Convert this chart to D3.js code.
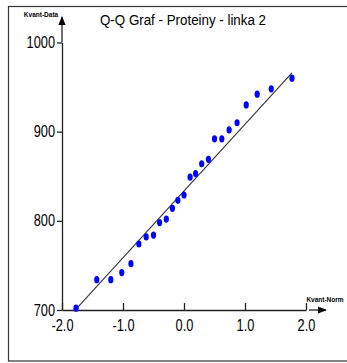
<!DOCTYPE html>
<html lang="cs">
  <head>
    <meta charset="UTF-8" />
    <title>Q-Q Graf</title>
    <script src="https://d3js.org/d3.v7.min.js"></script>
    <style>
      body { margin: 0; background: #fff; }
      text { font-family: "Liberation Sans", Arial, sans-serif; }
    </style>
  </head>
  <body></body>
  <script>
    // teoreticke kvantily normalniho rozdeleni (osa x)
    var normQuant = [-1.77, -1.43, -1.20, -1.02, -0.87, -0.74, -0.62, -0.50, -0.40, -0.29, -0.19, -0.10, 0.00,
                     0.10, 0.19, 0.29, 0.40, 0.50, 0.62, 0.74, 0.87, 1.02, 1.20, 1.43, 1.77];
    // namerene hodnoty - proteiny, linka 2
    var dataQuant = [702, 734, 734, 742, 752, 774, 782, 784, 798, 802, 814, 823, 829,
                     849, 853, 864, 869, 892, 892, 902, 910, 930, 942, 948, 960];
    // referencni primka
    var lineQ = [-1.77, 1.77];
    var lineV = [701, 966];
    var xTicks = [-2, -1, 0, 1, 2];
    var yTicks = [700, 800, 900, 1000];
    var title = "Q-Q Graf - Proteiny - linka 2";

    var W = 347, H = 363;
    var svg = d3.select("body").append("svg").attr("width", W).attr("height", H);

    // zuzeni pisma (narrow font neni k dispozici)
    function squeeze(sel, k) {
      sel.each(function () {
        var w = this.getComputedTextLength();
        d3.select(this).attr("textLength", w * k).attr("lengthAdjust", "spacingAndGlyphs");
      });
    }

    // ramecek
    svg.append("rect")
      .attr("x", 8.5).attr("y", 6.5)
      .attr("width", 345).attr("height", 354.5)
      .attr("fill", "none").attr("stroke", "#333").attr("stroke-width", 1.2);

    var x = d3.scaleLinear().domain([-2, 2]).range([62, 306]);
    var y = d3.scaleLinear().domain([700, 1000]).range([310, 42.5]);

    var xAxis = d3.axisBottom(x).tickValues(xTicks).tickSizeInner(-7).tickSizeOuter(0)
      .tickPadding(8).tickFormat(function (d) { return d.toFixed(1); });
    var yAxis = d3.axisLeft(y).tickValues(yTicks).tickSizeInner(5).tickSizeOuter(0)
      .tickPadding(2).tickFormat(d3.format("d"));

    var gx = svg.append("g").attr("transform", "translate(0,310)").call(xAxis);
    var gy = svg.append("g").attr("transform", "translate(62,0)").call(yAxis);

    [gx, gy].forEach(function (g) {
      g.selectAll("path, line").attr("stroke", "#222").attr("stroke-width", 1.3);
      g.selectAll("text").attr("fill", "#000").attr("font-size", 16)
        .style("font-family", '"Liberation Sans", Arial, sans-serif');
      squeeze(g.selectAll("text"), 0.8);
    });
    gx.selectAll("text").attr("dy", "0.8em");

    // sipky os
    svg.append("defs").append("marker")
      .attr("id", "arr").attr("viewBox", "0 0 10 10").attr("refX", 9).attr("refY", 5)
      .attr("markerWidth", 7).attr("markerHeight", 7).attr("orient", "auto")
      .append("path").attr("d", "M0,1 L10,5 L0,9 Z").attr("fill", "#000");

    svg.append("line")
      .attr("x1", x(-2)).attr("x2", x(-2)).attr("y1", y(1000)).attr("y2", 17)
      .attr("stroke", "#222").attr("stroke-width", 1.3).attr("marker-end", "url(#arr)");
    svg.append("line")
      .attr("x1", x(2) + 3).attr("x2", x(2) + 20).attr("y1", 310).attr("y2", 310)
      .attr("stroke", "#222").attr("stroke-width", 1.3).attr("marker-end", "url(#arr)");

    svg.append("text").attr("x", 41).attr("y", 17).attr("text-anchor", "middle")
      .attr("font-size", 6.5).attr("font-weight", "bold").text("Kvant-Data");
    svg.append("text").attr("x", 325).attr("y", 302).attr("text-anchor", "middle")
      .attr("font-size", 6.5).attr("font-weight", "bold").text("Kvant-Norm");

    // referencni primka
    svg.append("line")
      .attr("x1", x(lineQ[0])).attr("y1", y(lineV[0]))
      .attr("x2", x(lineQ[1])).attr("y2", y(lineV[1]))
      .attr("stroke", "#333").attr("stroke-width", 1.1);

    // body
    svg.append("g").selectAll("ellipse")
      .data(normQuant)
      .join("ellipse")
      .attr("cx", function (d) { return x(d); })
      .attr("cy", function (d, i) { return y(dataQuant[i]); })
      .attr("rx", 2.6).attr("ry", 3.6)
      .attr("fill", "#0000ff");

    svg.append("text")
      .attr("x", 183).attr("y", 25)
      .attr("text-anchor", "middle")
      .attr("font-size", 15.5)
      .attr("textLength", 166).attr("lengthAdjust", "spacingAndGlyphs")
      .text(title);
  </script>
</html>
